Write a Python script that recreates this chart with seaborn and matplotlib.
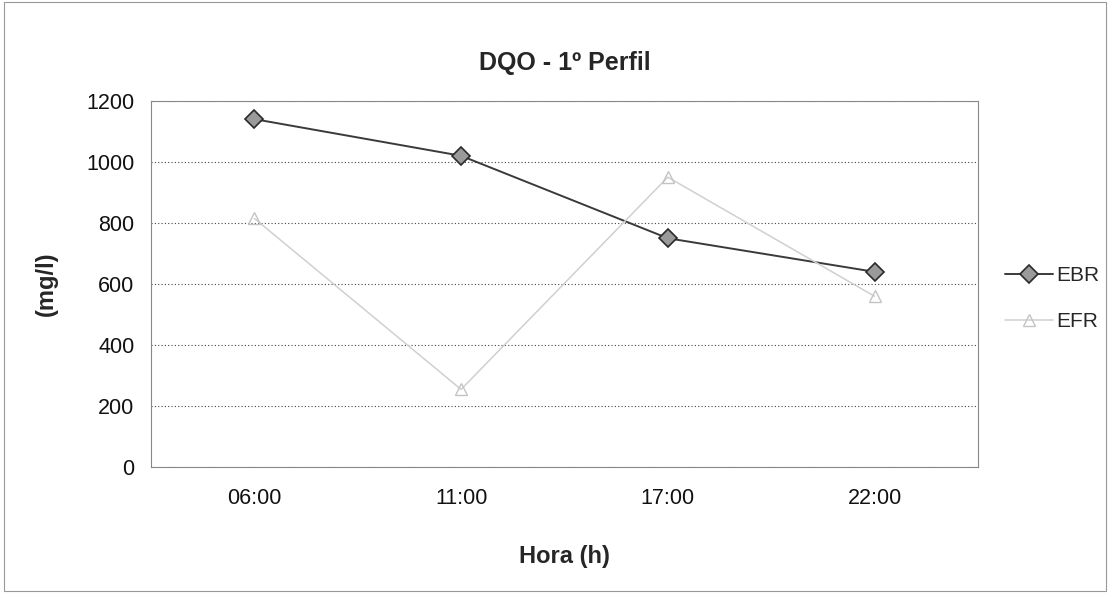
import matplotlib
matplotlib.use("Agg")
import matplotlib.pyplot as plt
import seaborn as sns
import pandas as pd
from matplotlib.patches import Rectangle

horas = ["06:00", "11:00", "17:00", "22:00"]
ebr = [1140, 1020, 750, 640]
efr = [815, 255, 950, 560]
series_names = ["EBR", "EFR"]
yticks = [0, 200, 400, 600, 800, 1000, 1200]

df_ebr = pd.DataFrame({"Hora": horas, "valor": ebr})
df_efr = pd.DataFrame({"Hora": horas, "valor": efr})

sns.set_theme(style="white")
plt.rcParams["font.family"] = ["Liberation Sans", "DejaVu Sans"]

fig = plt.figure(figsize=(11.1, 5.93), dpi=100)
ax = fig.add_axes([0.136, 0.212, 0.745, 0.618])

sns.lineplot(data=df_ebr, x="Hora", y="valor", ax=ax, sort=False,
             color="#3a3a3a", linewidth=1.4, label=series_names[0],
             marker="D", markersize=9, markerfacecolor="#9a9a9a",
             markeredgecolor="#2a2a2a", markeredgewidth=1.2)
sns.lineplot(data=df_efr, x="Hora", y="valor", ax=ax, sort=False,
             color="#d0d0d0", linewidth=1.1, label=series_names[1],
             marker="^", markersize=8, markerfacecolor="none",
             markeredgecolor="#c4c4c4", markeredgewidth=1.0)

ax.set_xlim(-0.5, 3.5)
ax.set_ylim(0, 1200)
ax.set_yticks(yticks)
ax.yaxis.grid(True, color="#444444", linestyle=(0, (1, 2)), linewidth=0.8)
ax.xaxis.grid(False)
for s in ax.spines.values():
    s.set_color("#888888")
    s.set_linewidth(0.8)
ax.tick_params(axis="y", labelsize=15.5, length=0, pad=12, colors="#111111")
ax.tick_params(axis="x", labelsize=15.5, length=0, pad=15, colors="#111111")

ax.set_title("DQO - 1º Perfil", fontsize=18, fontweight="bold", pad=22)
ax.set_xlabel("Hora (h)", fontsize=17, fontweight="bold", labelpad=26)
ax.set_ylabel("(mg/l)", fontsize=17, fontweight="bold", labelpad=20)

leg = ax.legend(loc="center left", bbox_to_anchor=(1.01, 0.46),
                frameon=False, fontsize=15, handlelength=2.3,
                labelspacing=1.3, handletextpad=0.15)

fig.patches.append(Rectangle((0.004, 0.004), 0.992, 0.992, transform=fig.transFigure,
                             fill=False, edgecolor="#999999", linewidth=0.8))

fig.savefig("out.png", dpi=100)
